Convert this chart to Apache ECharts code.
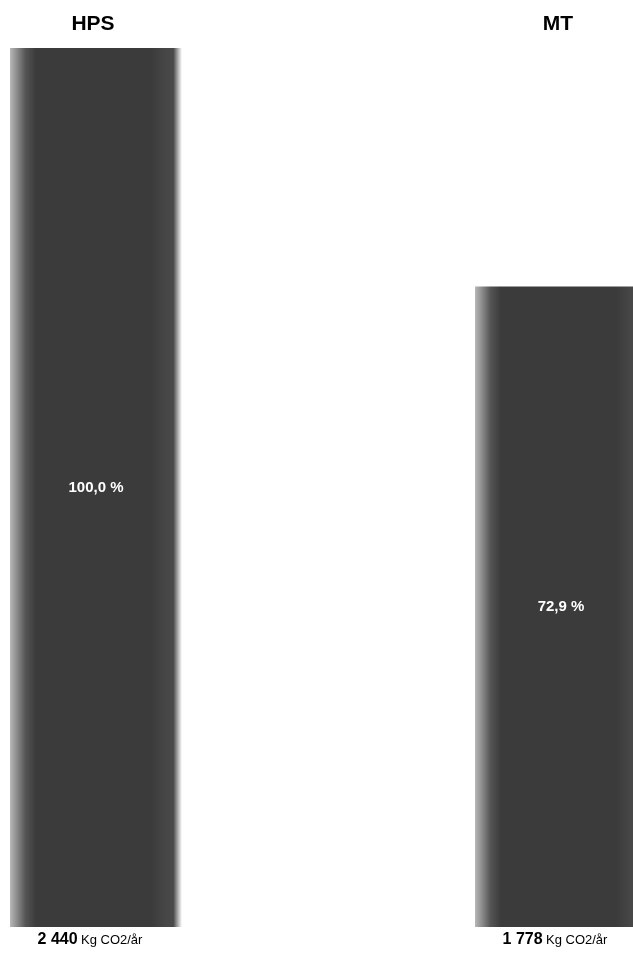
<!DOCTYPE html>
<html>
<head>
<meta charset="utf-8">
<style>
  html, body { margin: 0; padding: 0; background: #ffffff; }
  #chart { width: 633px; height: 953px; }
</style>
<script src="https://cdn.jsdelivr.net/npm/echarts@6/dist/echarts.min.js"></script>
</head>
<body>
<div id="chart"></div>
<script>
// Annual CO2 emissions per system
const categories = ['HPS', 'MT'];
const emissions = [2440, 1778];          // Kg CO2/år
const unitText = 'Kg CO2/år';

// Share of the reference system (first bar), as percent
const baseValue = emissions[0];

function fmtThousands(v) {
  return String(v).replace(/\B(?=(\d{3})+(?!\d))/g, ' ');
}
function fmtPercent(v) {
  return (v / baseValue * 100).toFixed(1).replace('.', ',') + ' %';
}

const barFill = new echarts.graphic.LinearGradient(0, 0, 1, 0, [
  { offset: 0.00, color: '#b8b8b8' },
  { offset: 0.04, color: '#8c8c8c' },
  { offset: 0.09, color: '#555555' },
  { offset: 0.15, color: '#3b3b3b' },
  { offset: 0.82, color: '#3b3b3b' },
  { offset: 0.90, color: '#464646' },
  { offset: 0.95, color: '#4a4a4a' },
  { offset: 0.975, color: '#a8a8a8' },
  { offset: 1.00, color: '#ffffff' }
]);

const chart = echarts.init(document.getElementById('chart'), null, { renderer: 'canvas' });

chart.setOption({
  animation: false,
  backgroundColor: '#ffffff',
  grid: { left: 96, right: 72, top: 48, bottom: 26, containLabel: false },
  xAxis: [
    {
      type: 'category',
      data: categories,
      position: 'top',
      boundaryGap: false,
      axisLine: { show: false },
      axisTick: { show: false },
      axisLabel: {
        margin: 13,
        color: '#000000',
        fontFamily: 'Liberation Sans, Arial, sans-serif',
        fontWeight: 'bold',
        fontSize: 21,
        padding: [0, 6, 0, 0],
        showMinLabel: true,
        showMaxLabel: true
      }
    },
    {
      type: 'category',
      data: categories,
      position: 'bottom',
      boundaryGap: false,
      axisLine: { show: false },
      axisTick: { show: false },
      axisLabel: {
        margin: 5,
        showMinLabel: true,
        showMaxLabel: true,
        padding: [0, 12, 0, 0],
        formatter: function (value, idx) {
          return '{n|' + fmtThousands(emissions[idx]) + '} {u|' + unitText + '}';
        },
        rich: {
          n: {
            color: '#000000',
            fontFamily: 'Liberation Sans, Arial, sans-serif',
            fontWeight: 'bold',
            fontSize: 16
          },
          u: {
            color: '#000000',
            fontFamily: 'Liberation Sans, Arial, sans-serif',
            fontSize: 13
          }
        }
      }
    }
  ],
  yAxis: {
    type: 'value',
    min: 0,
    max: baseValue,
    show: false,
    splitLine: { show: false }
  },
  series: [
    {
      type: 'bar',
      xAxisIndex: 0,
      data: emissions,
      barWidth: 172,
      clip: false,
      itemStyle: { color: barFill },
      label: {
        show: true,
        position: 'inside',
        color: '#ffffff',
        fontFamily: 'Liberation Sans, Arial, sans-serif',
        fontWeight: 'bold',
        fontSize: 15,
        formatter: function (p) { return fmtPercent(p.value); }
      }
    }
  ]
});
</script>
</body>
</html>
